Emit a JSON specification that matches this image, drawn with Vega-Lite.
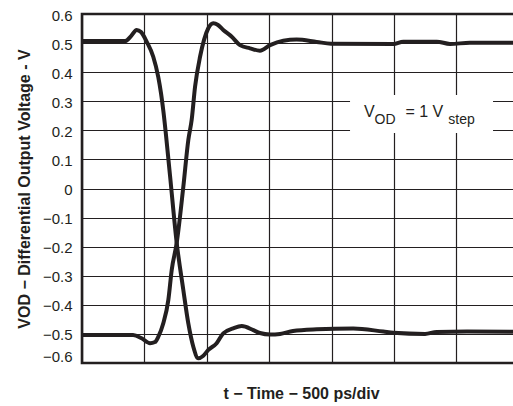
{
  "$schema": "https://vega.github.io/schema/vega-lite/v6.json",
  "width": 434,
  "height": 349,
  "autosize": {"type": "none"},
  "padding": {"left": 82, "top": 14, "right": 0, "bottom": 43},
  "background": "white",
  "config": {
    "font": "Liberation Sans",
    "view": {"stroke": "#231f20", "strokeWidth": 2.6}
  },
  "encoding": {
    "x": {
      "field": "t",
      "type": "quantitative",
      "scale": {"domain": [0, 3478], "nice": false, "zero": false},
      "axis": {
        "values": [0, 500, 1000, 1500, 2000, 2500, 3000],
        "labels": false,
        "ticks": false,
        "domain": false,
        "grid": true,
        "gridColor": "#231f20",
        "gridWidth": 1.2,
        "gridOpacity": 1,
        "title": "t − Time − 500 ps/div",
        "titleFont": "Liberation Sans",
        "titleFontSize": 16,
        "titleFontWeight": "bold",
        "titleColor": "#231f20",
        "titlePadding": 22,
        "titleX": 219
      }
    },
    "y": {
      "field": "v",
      "type": "quantitative",
      "scale": {"domain": [-0.6, 0.6], "nice": false, "zero": false},
      "axis": {
        "values": [-0.6, -0.5, -0.4, -0.3, -0.2, -0.1, 0, 0.1, 0.2, 0.3, 0.4, 0.5, 0.6],
        "labelExpr": "datum.value == 0 ? '0' : (datum.value < 0 ? '−' : '') + format(abs(datum.value), '.1f')",
        "labelFont": "Liberation Sans",
        "labelFontSize": 15,
        "labelColor": "#231f20",
        "labelPadding": 10,
        "labelOverlap": false,
        "labelOffset": {"condition": {"test": "datum.value == -0.6", "value": -7}, "value": 1},
        "ticks": false,
        "domain": false,
        "grid": true,
        "gridColor": "#231f20",
        "gridWidth": 1.2,
        "gridOpacity": 1,
        "title": "VOD − Differential Output Voltage - V",
        "titleFont": "Liberation Sans",
        "titleFontSize": 16,
        "titleFontWeight": "bold",
        "titleColor": "#231f20",
        "titlePadding": 10
      }
    }
  },
  "layer": [
    {
      "data": {
        "values": [
          {"trace": "fall", "t": 0, "v": 0.507},
          {"trace": "fall", "t": 345, "v": 0.507},
          {"trace": "fall", "t": 393, "v": 0.524},
          {"trace": "fall", "t": 438, "v": 0.545},
          {"trace": "fall", "t": 473, "v": 0.538},
          {"trace": "fall", "t": 518, "v": 0.505},
          {"trace": "fall", "t": 571, "v": 0.453},
          {"trace": "fall", "t": 611, "v": 0.384},
          {"trace": "fall", "t": 633, "v": 0.328},
          {"trace": "fall", "t": 651, "v": 0.27},
          {"trace": "fall", "t": 705, "v": 0.046},
          {"trace": "fall", "t": 759, "v": -0.187},
          {"trace": "fall", "t": 812, "v": -0.349},
          {"trace": "fall", "t": 852, "v": -0.464},
          {"trace": "fall", "t": 892, "v": -0.544},
          {"trace": "fall", "t": 932, "v": -0.584},
          {"trace": "fall", "t": 970, "v": -0.576},
          {"trace": "fall", "t": 1012, "v": -0.555},
          {"trace": "fall", "t": 1079, "v": -0.532},
          {"trace": "fall", "t": 1132, "v": -0.498},
          {"trace": "fall", "t": 1212, "v": -0.481},
          {"trace": "fall", "t": 1280, "v": -0.473},
          {"trace": "fall", "t": 1373, "v": -0.487},
          {"trace": "fall", "t": 1426, "v": -0.497},
          {"trace": "fall", "t": 1507, "v": -0.502},
          {"trace": "fall", "t": 1587, "v": -0.5},
          {"trace": "fall", "t": 1691, "v": -0.49},
          {"trace": "fall", "t": 1881, "v": -0.484},
          {"trace": "fall", "t": 2174, "v": -0.481},
          {"trace": "fall", "t": 2415, "v": -0.492},
          {"trace": "fall", "t": 2495, "v": -0.496},
          {"trace": "fall", "t": 2749, "v": -0.5},
          {"trace": "fall", "t": 2843, "v": -0.493},
          {"trace": "fall", "t": 3083, "v": -0.492},
          {"trace": "fall", "t": 3478, "v": -0.493},
          {"trace": "rise", "t": 0, "v": -0.504},
          {"trace": "rise", "t": 409, "v": -0.504},
          {"trace": "rise", "t": 478, "v": -0.515},
          {"trace": "rise", "t": 545, "v": -0.532},
          {"trace": "rise", "t": 585, "v": -0.528},
          {"trace": "rise", "t": 611, "v": -0.51},
          {"trace": "rise", "t": 651, "v": -0.464},
          {"trace": "rise", "t": 692, "v": -0.383},
          {"trace": "rise", "t": 719, "v": -0.28},
          {"trace": "rise", "t": 759, "v": -0.187},
          {"trace": "rise", "t": 812, "v": 0.006},
          {"trace": "rise", "t": 852, "v": 0.167},
          {"trace": "rise", "t": 879, "v": 0.236},
          {"trace": "rise", "t": 906, "v": 0.35},
          {"trace": "rise", "t": 946, "v": 0.453},
          {"trace": "rise", "t": 978, "v": 0.511},
          {"trace": "rise", "t": 1012, "v": 0.551},
          {"trace": "rise", "t": 1052, "v": 0.568},
          {"trace": "rise", "t": 1090, "v": 0.562},
          {"trace": "rise", "t": 1132, "v": 0.545},
          {"trace": "rise", "t": 1200, "v": 0.522},
          {"trace": "rise", "t": 1266, "v": 0.493},
          {"trace": "rise", "t": 1346, "v": 0.482},
          {"trace": "rise", "t": 1426, "v": 0.474},
          {"trace": "rise", "t": 1507, "v": 0.493},
          {"trace": "rise", "t": 1613, "v": 0.508},
          {"trace": "rise", "t": 1720, "v": 0.512},
          {"trace": "rise", "t": 1881, "v": 0.504},
          {"trace": "rise", "t": 1996, "v": 0.498},
          {"trace": "rise", "t": 2495, "v": 0.497},
          {"trace": "rise", "t": 2575, "v": 0.505},
          {"trace": "rise", "t": 2843, "v": 0.505},
          {"trace": "rise", "t": 2949, "v": 0.497},
          {"trace": "rise", "t": 3109, "v": 0.501},
          {"trace": "rise", "t": 3478, "v": 0.501}
        ]
      },
      "mark": {"type": "line", "color": "#231f20", "strokeWidth": 4, "strokeJoin": "round", "strokeCap": "round", "interpolate": "monotone", "clip": true},
      "encoding": {
        "detail": {"field": "trace", "type": "nominal"}
      }
    },
    {
      "data": {"values": [{"t": 2148, "t2": 3294, "v": 0.191, "v2": 0.3215}]},
      "mark": {"type": "rect", "fill": "white", "stroke": null},
      "encoding": {
        "x2": {"field": "t2"},
        "y2": {"field": "v2"}
      }
    },
    {
      "data": {"values": [{"label": "V", "t": 2260, "v": 0.247}, {"label": "= 1 V", "t": 2592, "v": 0.247}]},
      "mark": {"type": "text", "font": "Liberation Sans", "fontSize": 16, "align": "left", "baseline": "alphabetic", "color": "#231f20"},
      "encoding": {
        "text": {"field": "label"}
      }
    },
    {
      "data": {"values": [{"label": "OD", "t": 2345, "v": 0.2228}, {"label": "step", "t": 2935, "v": 0.2228}]},
      "mark": {"type": "text", "font": "Liberation Sans", "fontSize": 14, "align": "left", "baseline": "alphabetic", "color": "#231f20"},
      "encoding": {
        "text": {"field": "label"}
      }
    }
  ]
}
